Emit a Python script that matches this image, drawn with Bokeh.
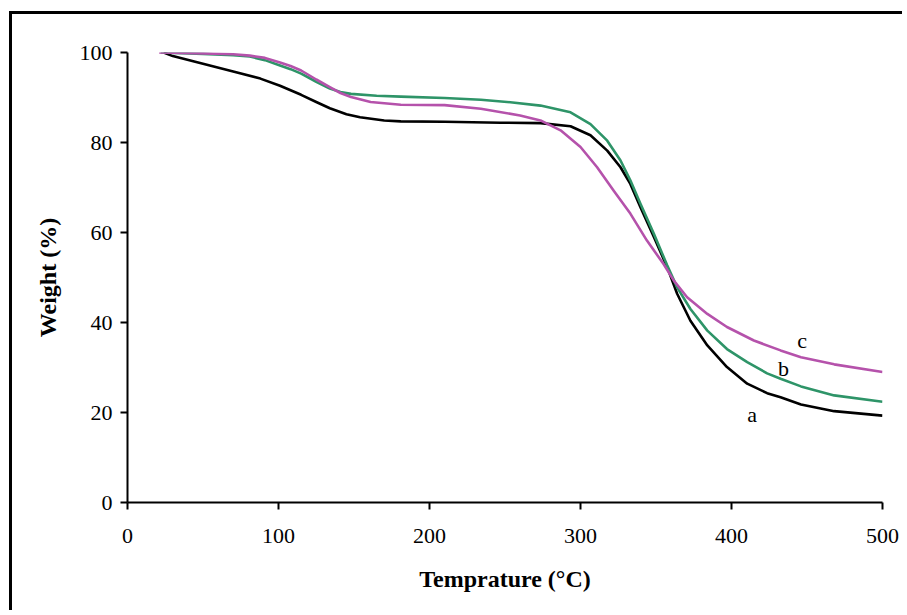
from bokeh.plotting import figure
from bokeh.models import Range1d, FixedTicker, ColumnDataSource
from bokeh.core.properties import value
from bokeh.embed import file_html
from bokeh.resources import INLINE

# ---- data ----
temp_a = [24, 30, 50, 70, 88, 101, 115, 125, 134, 145, 154, 170, 181, 210, 247, 273.5, 293.4, 306.6, 317.7,
          326.5, 333, 339.7, 348.6, 357.4, 364, 372.8, 384, 397, 410.4, 423.6, 432.5, 446, 468, 500]
weight_a = [100, 99.2, 97.5, 95.8, 94.2, 92.6, 90.6, 89.0, 87.6, 86.3, 85.6, 84.9, 84.7, 84.6, 84.4, 84.3, 83.6, 81.6, 78.2,
            74.5, 70.8, 65.6, 59.0, 52.3, 46.4, 40.4, 34.9, 30.1, 26.4, 24.3, 23.4, 21.8, 20.3, 19.3]

temp_b = [22, 50, 70, 81, 91, 101, 108, 115, 125, 134, 141, 148, 165, 181, 210, 234, 255, 273.5, 293.4, 306.6,
          317.7, 326.5, 333, 339.7, 348.6, 357.4, 364, 372.8, 384, 397, 410.4, 423.6, 432.5, 446, 468, 500]
weight_b = [100, 99.7, 99.4, 99.1, 98.3, 97.1, 96.3, 95.3, 93.5, 92.0, 91.2, 90.8, 90.4, 90.2, 89.9, 89.5, 88.9, 88.2, 86.7, 84.1,
            80.4, 76.0, 71.6, 66.4, 59.7, 52.7, 47.8, 43.0, 38.2, 34.1, 31.2, 28.7, 27.5, 25.8, 23.8, 22.4]

temp_c = [21, 50, 70, 81, 91, 101, 108, 115, 125, 134, 141, 148, 161, 181, 210, 234, 260, 273.5, 286.8, 300,
          311, 322, 333, 344, 355, 361.8, 370.6, 384, 397, 414.8, 432.5, 446, 468, 500]
weight_c = [100, 99.8, 99.6, 99.3, 98.8, 97.8, 97.0, 96.0, 94.0, 92.3, 91.0, 90.1, 89.0, 88.4, 88.3, 87.5, 86.0, 84.9, 82.7, 79.0,
            74.5, 69.3, 64.2, 58.2, 53.0, 49.3, 45.6, 41.9, 39.0, 36.0, 33.8, 32.3, 30.7, 29.0]

curve_names = ["a", "b", "c"]
curve_colors = ["#000000", "#2e9468", "#b552ab"]
label_x = [413.7, 434.4, 446.8]
label_y = [19.6, 29.8, 36.1]

x_ticks = [0, 100, 200, 300, 400, 500]
y_ticks = [0, 20, 40, 60, 80, 100]

FONT = "Liberation Serif"

p = figure(width=893, height=599, x_range=Range1d(0, 500), y_range=Range1d(0, 100),
           output_backend="svg", toolbar_location=None,
           min_border_left=115, min_border_right=23, min_border_top=38, min_border_bottom=111)
p.margin = (11, 0, 0, 9)
p.styles = {"border-left": "3px solid black", "border-top": "3px solid black"}

p.outline_line_color = None
p.grid.visible = False
p.background_fill_color = "white"
p.border_fill_color = "white"

for ax in (p.xaxis[0], p.yaxis[0]):
    ax.axis_line_width = 2
    ax.axis_line_color = "black"
    ax.major_tick_line_width = 2
    ax.major_tick_line_color = "black"
    ax.major_tick_out = 7
    ax.major_tick_in = 0
    ax.minor_tick_line_color = None
    ax.major_label_text_font = FONT
    ax.major_label_text_font_size = "22px"
    ax.major_label_text_color = "black"
    ax.axis_label_text_font = FONT
    ax.axis_label_text_font_size = "24px"
    ax.axis_label_text_font_style = "bold"
    ax.axis_label_text_color = "black"

p.xaxis[0].ticker = FixedTicker(ticks=x_ticks)
p.yaxis[0].ticker = FixedTicker(ticks=y_ticks)
p.xaxis[0].axis_label = "Temprature (°C)"
p.yaxis[0].axis_label = "Weight (%)"
p.xaxis[0].major_label_standoff = 19
p.yaxis[0].major_label_standoff = 8
p.xaxis[0].axis_label_standoff = 20
p.yaxis[0].axis_label_standoff = 16

for (tx, wy), col in zip([(temp_a, weight_a), (temp_b, weight_b), (temp_c, weight_c)], curve_colors):
    p.line(tx, wy, line_color=col, line_width=2.6, line_join="round")

src = ColumnDataSource(dict(x=label_x, y=label_y, t=curve_names))
p.text(x="x", y="y", text="t", source=src, text_font=value(FONT), text_font_size="22px",
       text_align="center", text_baseline="alphabetic", text_color="black")

open("out.html", "w").write(file_html(p, INLINE))
